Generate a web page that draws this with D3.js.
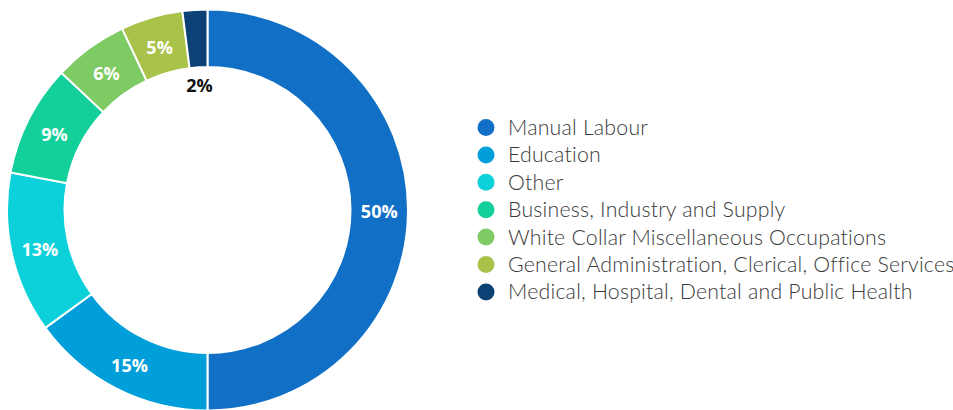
<!DOCTYPE html>
<html>
<head>
<meta charset="utf-8">
<script src="https://cdn.jsdelivr.net/npm/d3@7"></script>
<style>
  html, body { margin: 0; padding: 0; background: #fff; }
  svg { display: block; }
</style>
</head>
<body>
<svg id="chart" width="953" height="410"></svg>
<script>
// Occupation groups and their share (%)
const categories = [
  "Manual Labour",
  "Education",
  "Other",
  "Business, Industry and Supply",
  "White Collar Miscellaneous Occupations",
  "General Administration, Clerical, Office Services",
  "Medical, Hospital, Dental and Public Health"
];
const values = [50, 15, 13, 9, 6, 5, 2];
const colors = ["#1170c6", "#009fda", "#0cd1db", "#13cf9a", "#7ecb64", "#a9c24a", "#0b4174"];

const svg = d3.select("#chart");
const cx = 207.5, cy = 210, outerR = 200.5, innerR = 143;

const data = categories.map((c, i) => ({ name: c, value: values[i], color: colors[i] }));

const pie = d3.pie().value(d => d.value).sort(null);
const arc = d3.arc().innerRadius(innerR).outerRadius(outerR);
const arcs = pie(data);

const g = svg.append("g").attr("transform", `translate(${cx},${cy})`);

g.selectAll("path.slice")
  .data(arcs)
  .join("path")
  .attr("class", "slice")
  .attr("d", arc)
  .attr("fill", d => d.data.color)
  .attr("stroke", "#fff")
  .attr("stroke-width", 2);

// Value labels: white on the ring; small slices get a dark label just inside
const innerLabelArc = d3.arc().innerRadius(127).outerRadius(127);
g.selectAll("text.val")
  .data(arcs)
  .join("text")
  .attr("class", "val")
  .attr("transform", d => {
    const p = d.data.value < 3 ? innerLabelArc.centroid(d) : arc.centroid(d);
    return `translate(${p[0]},${p[1] + 2})`;
  })
  .attr("text-anchor", "middle")
  .attr("dy", "0.36em")
  .attr("font-family", "'Open Sans', 'DejaVu Sans', sans-serif")
  .attr("font-weight", 700)
  .attr("font-size", 18)
  .attr("fill", d => d.data.value < 3 ? "#111" : "#fff")
  .text(d => d.data.value + "%");

// Legend
const legend = svg.append("g").attr("transform", "translate(486,127.5)");
const rowH = 27.4;
const rows = legend.selectAll("g.row")
  .data(data)
  .join("g")
  .attr("class", "row")
  .attr("transform", (d, i) => `translate(0,${i * rowH})`);

rows.append("circle")
  .attr("r", 8.5)
  .attr("fill", d => d.color);

rows.append("text")
  .attr("x", 22)
  .attr("dy", "0.35em")
  .attr("font-family", "Lato, 'Open Sans', sans-serif")
  .attr("font-weight", 300)
  .attr("font-size", 21.3)
  .attr("letter-spacing", 0.2)
  .attr("fill", "#3a3a3a")
  .text(d => d.name);
</script>
</body>
</html>
